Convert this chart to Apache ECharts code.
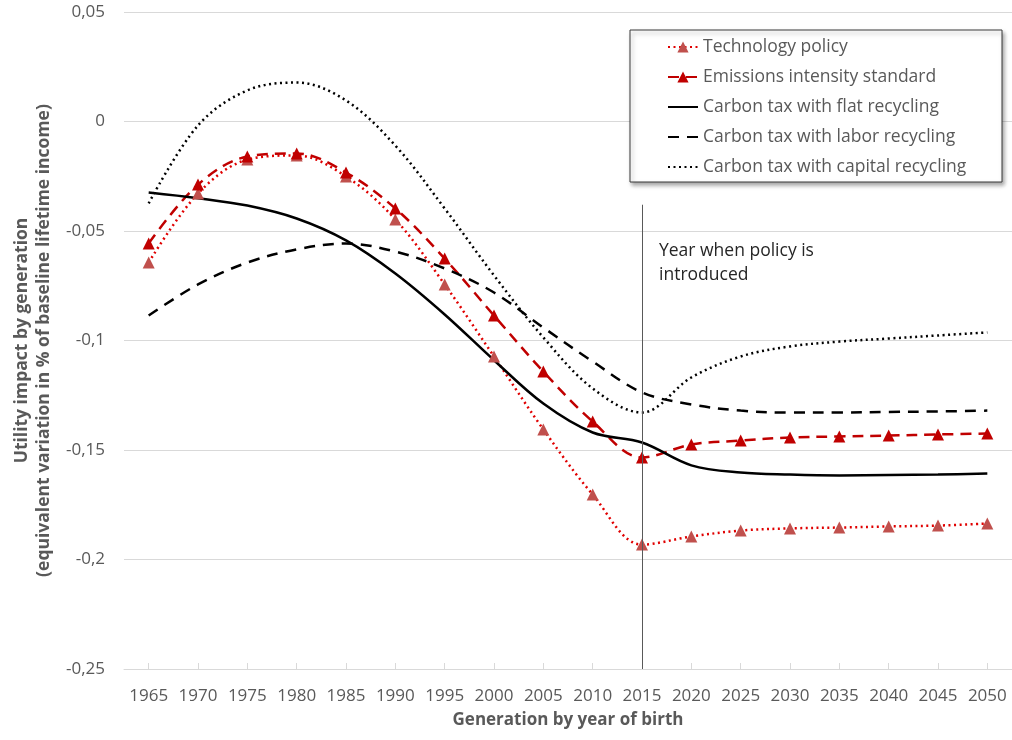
<!DOCTYPE html>
<html>
<head>
<meta charset="utf-8">
<script src="https://cdn.jsdelivr.net/npm/echarts@6/dist/echarts.min.js"></script>
<style>
  html, body { margin: 0; padding: 0; background: #fff; }
  #chart { width: 1012px; height: 740px; }
</style>
</head>
<body>
<div id="chart"></div>
<script>
// generation by year of birth
const years = ['1965', '1970', '1975', '1980', '1985', '1990', '1995', '2000', '2005',
  '2010', '2015', '2020', '2025', '2030', '2035', '2040', '2045', '2050']

// utility impact, % of baseline lifetime income
const techPolicy = [-0.0644, -0.0329, -0.0174, -0.0155, -0.0251, -0.0447, -0.0744, -0.1073, -0.1406,
  -0.1703, -0.1932, -0.1895, -0.1868, -0.1858, -0.1854, -0.1849, -0.1845, -0.1836]
const emissionsStd = [-0.0557, -0.0288, -0.0160, -0.0146, -0.0233, -0.0397, -0.0626, -0.0886, -0.1142,
  -0.1370, -0.1534, -0.1475, -0.1457, -0.1443, -0.1438, -0.1434, -0.1429, -0.1425]
const flatRecycling = [-0.0324, -0.0350, -0.0384, -0.0443, -0.0543, -0.0694, -0.0881, -0.1090, -0.1288,
  -0.1420, -0.1466, -0.1570, -0.1603, -0.1612, -0.1616, -0.1614, -0.1612, -0.1607]
const laborRecycling = [-0.0886, -0.0744, -0.0644, -0.0584, -0.0557, -0.0594, -0.0671, -0.0781, -0.0941,
  -0.1096, -0.1237, -0.1292, -0.1320, -0.1329, -0.1329, -0.1326, -0.1324, -0.1320]
const capitalRecycling = [-0.0374, -0.0018, 0.0142, 0.0178, 0.0096, -0.0110, -0.0397, -0.0703, -0.0986,
  -0.1219, -0.1329, -0.1169, -0.1073, -0.1027, -0.1005, -0.0991, -0.0977, -0.0963]

const seriesNames = ['Technology policy', 'Emissions intensity standard', 'Carbon tax with flat recycling',
  'Carbon tax with labor recycling', 'Carbon tax with capital recycling']

const policyYear = '2015'
const policyNote = 'Year when policy is\nintroduced'

const font = '"Open Sans", "Noto Sans", sans-serif'
const grey = '#595959'

const chart = echarts.init(document.getElementById('chart'))

const fmt = v => String(Math.round(v * 100) / 100).replace('.', ',')

// black lines have no markers, hide them in the legend too
const legendData = seriesNames.map((name, i) => i < 2 ? {name} : {name, itemStyle: {opacity: 0}})

chart.setOption({
  animation: false,
  textStyle: {fontFamily: font},
  grid: {left: 124, right: 0, top: 12, bottom: 71},
  legend: {
    orient: 'vertical',
    left: 662,
    top: 32,
    itemWidth: 30,
    itemHeight: 14,
    itemGap: 10,
    z: 10,
    textStyle: {fontFamily: font, fontSize: 17.5, color: grey, lineHeight: 20},
    data: legendData
  },
  graphic: [
    {
      // legend frame
      type: 'rect',
      z: 5,
      shape: {x: 630, y: 30, width: 372, height: 152},
      style: {
        fill: '#fff', stroke: '#3a3a3a', lineWidth: 1,
        shadowBlur: 4, shadowOffsetX: 2, shadowOffsetY: 3, shadowColor: 'rgba(0,0,0,0.35)'
      }
    },
    {
      type: 'text',
      left: 659,
      top: 239,
      z: 5,
      style: {text: policyNote, fontFamily: font, fontSize: 17.5, lineHeight: 24, fill: '#262626'}
    }
  ],
  xAxis: [
    {
      type: 'category',
      data: years,
      position: 'bottom',
      axisLine: {show: false},
      axisTick: {show: false},
      axisLabel: {fontSize: 17, color: grey, margin: 19, interval: 0},
      name: 'Generation by year of birth',
      nameLocation: 'middle',
      nameGap: 43,
      nameTextStyle: {fontSize: 17, fontWeight: 'bold', color: grey}
    },
    {
      // axis line crossing at zero, ticks only
      type: 'category',
      data: years,
      position: 'bottom',
      axisLine: {show: true, onZero: true, lineStyle: {color: '#d9d9d9', width: 1}},
      axisTick: {show: true, inside: true, length: 6, alignWithLabel: true, lineStyle: {color: '#d9d9d9'}},
      axisLabel: {show: false}
    }
  ],
  yAxis: {
    type: 'value',
    min: -0.25,
    max: 0.05,
    interval: 0.05,
    axisLine: {show: false},
    axisTick: {show: false},
    splitLine: {lineStyle: {color: '#d9d9d9', width: 1}},
    axisLabel: {fontSize: 17, color: grey, margin: 19, formatter: fmt},
    name: 'Utility impact by generation\n(equivalent variation in % of baseline lifetime income)',
    nameLocation: 'middle',
    nameRotate: 90,
    nameGap: 66,
    nameTextStyle: {fontSize: 17.5, fontWeight: 'bold', color: grey, lineHeight: 22}
  },
  series: [
    {
      name: seriesNames[0],
      type: 'line',
      data: techPolicy,
      smooth: 0.35,
      symbol: 'triangle',
      symbolSize: 12,
      itemStyle: {color: '#c0504d'},
      lineStyle: {color: '#e00000', width: 2.5, type: [2, 3.5]},
      z: 3
    },
    {
      name: seriesNames[1],
      type: 'line',
      data: emissionsStd,
      smooth: 0.35,
      symbol: 'triangle',
      symbolSize: 12,
      itemStyle: {color: '#c00000'},
      lineStyle: {color: '#c00000', width: 2.5, type: [11, 7]},
      z: 3
    },
    {
      name: seriesNames[2],
      type: 'line',
      data: flatRecycling,
      smooth: 0.35,
      showSymbol: false,
      itemStyle: {color: '#000'},
      lineStyle: {color: '#000', width: 2.5},
      markLine: {
        silent: true,
        symbol: 'none',
        label: {show: false},
        lineStyle: {color: '#595959', width: 1, type: 'solid'},
        data: [[{coord: [policyYear, -0.038]}, {coord: [policyYear, -0.25]}]]
      }
    },
    {
      name: seriesNames[3],
      type: 'line',
      data: laborRecycling,
      smooth: 0.35,
      showSymbol: false,
      itemStyle: {color: '#000'},
      lineStyle: {color: '#000', width: 2.5, type: [11, 8]}
    },
    {
      name: seriesNames[4],
      type: 'line',
      data: capitalRecycling,
      smooth: 0.35,
      showSymbol: false,
      itemStyle: {color: '#000'},
      lineStyle: {color: '#000', width: 2.5, type: [2, 3.5]}
    }
  ]
})
</script>
</body>
</html>
